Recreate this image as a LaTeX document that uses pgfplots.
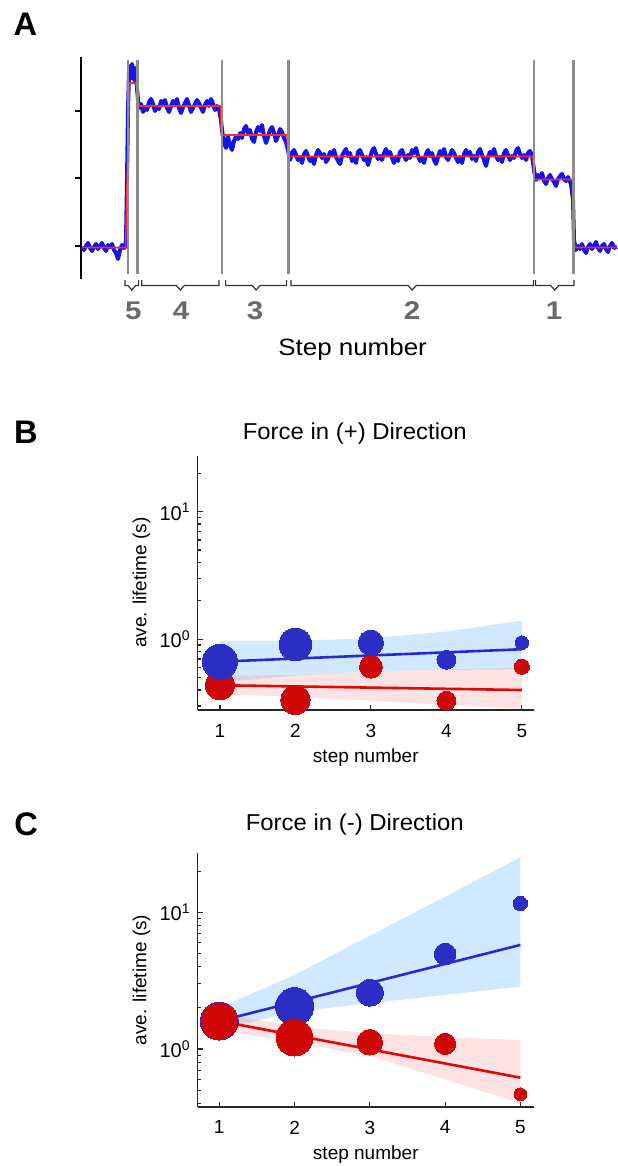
\documentclass[border=0pt]{standalone}
\usepackage{fontspec}
\setmainfont{Liberation Sans}
\usepackage{pgfplots}
\pgfplotsset{compat=1.18}

\definecolor{mblue}{RGB}{42,46,196}
\definecolor{mred}{RGB}{206,8,8}
\definecolor{lblue}{RGB}{40,40,215}
\definecolor{lred}{RGB}{222,10,10}
\definecolor{bandblue}{rgb}{0.55,0.78,1}
\definecolor{bandred}{rgb}{0.95,0.55,0.55}
\definecolor{trace}{RGB}{20,20,235}
\definecolor{fitred}{RGB}{255,40,40}
\definecolor{steplines}{RGB}{140,140,140}
\definecolor{steptxt}{RGB}{105,105,105}

% 1 px of the reference = 0.5 pt here
\pgfplotsset{
  lifetime/.style={
    scale only axis, width=168.15pt, anchor=center,
    axis x line=bottom, axis y line=left,
    axis line style={-, line width=0.8pt, black!85},
    tick align=inside,
    xtick={1,2,3,4,5},
    ytick={1,10},
    yticklabels={10\textsuperscript{0},10\textsuperscript{1}},
    minor ytick={0.3,0.4,0.5,0.6,0.7,0.8,0.9,2,3,4,5,6,7,8,9,20},
    major tick length=2.6pt, minor tick length=1.8pt,
    tick style={black!85, line width=0.6pt},
    xticklabel style={font=\fontsize{9.5}{9.5}\selectfont, yshift=-3.5pt,
      /pgf/number format/assume math mode=true},
    yticklabel style={font=\fontsize{10}{10}\selectfont},
    clip=false,
  },
  bub/.style 2 args={only marks, mark=*, mark size=#2pt, color=#1,
    mark options={line width=0pt}},
}
\tikzset{
  bracket/.style={black!80, line width=0.6pt},
  stepnum/.style={steptxt, font=\fontsize{12.8}{12.8}\selectfont\bfseries, xscale=1.15},
  panel/.style={font=\fontsize{16.3}{16.3}\selectfont\bfseries},
}

\begin{document}
\begin{tikzpicture}
\path[use as bounding box] (0,0) rectangle (308.5pt,-583pt);

% ---------------- A: trace ----------------
\begin{axis}[
  at={(174.5pt,-84pt)}, anchor=center,
  scale only axis, width=268pt, height=111pt,
  xmin=81, xmax=617, ymin=57, ymax=279, y dir=reverse,
  axis x line=none, axis y line=left,
  y axis line style={-, line width=1pt, black},
  ytick={110.7,178,245.7}, yticklabels={,,},
  tick align=outside, major tick length=3pt,
  tick style={black, line width=0.8pt},
  clip=false,
]
  % raw signal
  \addplot[trace, line width=2pt, line join=round] coordinates {
    (82,247) (84,250) (86,246) (88,243) (90,248) (92,251) (94,247) (96,244)
    (98,249) (100,246) (102,243) (104,248) (106,251) (108,245) (110,247) (112,244)
    (114,250) (116,253) (118,259) (120,250) (122,245) (124,248) (125,247)
    (126,240) (127,180) (128,110) (129,72) (130,66) (131,78) (132,64) (133,70)
    (134,80) (135,68) (136,76) (137,88) (138,100) (139,108)
    (141,104) (143,112) (145,107) (147,110) (149,102) (151,99) (153,104) (155,111)
    (157,107) (159,109) (161,101) (163,104) (165,100) (167,108) (169,112) (171,106)
    (173,101) (175,104) (177,99) (179,108) (181,113) (183,107) (185,103) (187,99)
    (189,105) (191,112) (193,108) (195,104) (197,100) (199,103) (201,108) (203,112)
    (205,105) (207,101) (209,106) (211,99) (213,104) (215,110) (217,106) (219,109)
    (221,120) (222,130)
    (224,142) (226,148) (228,137) (230,145) (232,150) (234,141) (236,136) (238,139)
    (240,133) (242,138) (244,129) (246,126) (248,133) (250,130) (252,139) (254,142)
    (256,132) (258,127) (260,131) (262,125) (264,136) (266,143) (268,137) (270,130)
    (272,127) (274,133) (276,141) (278,136) (280,129) (282,132) (284,138) (286,142)
    (288,150)
    (290,160) (292,153) (294,150) (296,155) (298,160) (300,157) (302,163) (304,154)
    (306,151) (308,156) (310,161) (312,158) (314,164) (316,155) (318,150) (320,153)
    (322,158) (324,154) (326,162) (328,159) (330,152) (332,155) (334,150) (336,157)
    (338,161) (340,164) (342,156) (344,152) (346,149) (348,156) (350,153) (352,161)
    (354,158) (356,163) (358,152) (360,150) (362,155) (364,160) (366,157) (368,165)
    (370,158) (372,151) (374,148) (376,154) (378,159) (380,156) (382,160) (384,153)
    (386,149) (388,155) (390,152) (392,158) (394,163) (396,157) (398,161) (400,152)
    (402,150) (404,156) (406,160) (408,155) (410,158) (412,150) (414,153) (416,148)
    (418,156) (420,161) (422,158) (424,163) (426,154) (428,150) (430,156) (432,153)
    (434,160) (436,164) (438,157) (440,151) (442,155) (444,149) (446,157) (448,160)
    (450,155) (452,150) (454,153) (456,158) (458,162) (460,157) (462,163) (464,154)
    (466,150) (468,155) (470,152) (472,159) (474,156) (476,161) (478,152) (480,149)
    (482,155) (484,160) (486,166) (488,157) (490,152) (492,155) (494,149) (496,156)
    (498,160) (500,157) (502,162) (504,153) (506,150) (508,155) (510,160) (512,156)
    (514,158) (516,151) (518,148) (520,154) (522,158) (524,155) (526,160) (528,153)
    (530,151) (532,155)
    (534,170) (536,180) (538,175) (540,178) (542,173) (544,181) (546,184) (548,178)
    (550,175) (552,179) (554,182) (556,186) (558,179) (560,176) (562,174) (564,179)
    (566,181) (568,177) (570,182) (571,184)
    (573,200) (574,240) (576,250)
    (578,246) (580,249) (582,244) (584,250) (586,253) (588,247) (590,244) (592,249)
    (594,246) (596,242) (598,248) (600,251) (602,246) (604,244) (606,249) (608,252)
    (610,246) (612,243) (614,248) (617,247)
  };
  % step fit
  \addplot[fitred, line width=0.8pt] coordinates {
    (82,247.5) (125.5,247.5) (129.5,83) (136,83) (139,106) (220.5,106)
    (221.5,135) (287,135) (288.5,156.5) (533,156.5) (534,179.5) (573,179.5)
    (574.5,247.5) (617,247.5)
  };
  % step boundaries
  \addplot[steplines, line width=1.4pt] coordinates {(128,60) (128,274)};
  \addplot[steplines, line width=1.4pt] coordinates {(137.5,60) (137.5,274)};
  \addplot[steplines, line width=1.4pt] coordinates {(222,60) (222,274)};
  \addplot[steplines, line width=1.4pt] coordinates {(288.5,60) (288.5,274)};
  \addplot[steplines, line width=1.4pt] coordinates {(534,60) (534,274)};
  \addplot[steplines, line width=1.4pt] coordinates {(573.5,60) (573.5,274)};
  % brackets
  \draw[bracket] (axis cs:125,280) -- (axis cs:125,285.5) -- (axis cs:128,285.5)
    -- (axis cs:131.8,290) -- (axis cs:135.6,285.5) -- (axis cs:138.6,285.5) -- (axis cs:138.6,280);
  \draw[bracket] (axis cs:141.7,280) -- (axis cs:141.7,285.5) -- (axis cs:176.3,285.5)
    -- (axis cs:180.3,290) -- (axis cs:184.3,285.5) -- (axis cs:219,285.5) -- (axis cs:219,280);
  \draw[bracket] (axis cs:225.6,280) -- (axis cs:225.6,285.5) -- (axis cs:252.1,285.5)
    -- (axis cs:256.1,290) -- (axis cs:260.1,285.5) -- (axis cs:286.6,285.5) -- (axis cs:286.6,280);
  \draw[bracket] (axis cs:291,280) -- (axis cs:291,285.5) -- (axis cs:408.2,285.5)
    -- (axis cs:412.2,290) -- (axis cs:416.2,285.5) -- (axis cs:533.5,285.5) -- (axis cs:533.5,280);
  \draw[bracket] (axis cs:535.4,280) -- (axis cs:535.4,285.5) -- (axis cs:550.7,285.5)
    -- (axis cs:554.7,290) -- (axis cs:558.7,285.5) -- (axis cs:574,285.5) -- (axis cs:574,280);
  \node[stepnum] at (axis cs:133.3,310.7) {5};
  \node[stepnum] at (axis cs:181,310.7) {4};
  \node[stepnum] at (axis cs:255,310.7) {3};
  \node[stepnum] at (axis cs:412,310.7) {2};
  \node[stepnum] at (axis cs:554,310.7) {1};
\end{axis}
\node[panel] at (12.7pt,-11.9pt) {A};
\node[font=\fontsize{11.8}{11.8}\selectfont, xscale=1.1, anchor=base] at (176.3pt,-177.5pt) {Step number};

% ---------------- B ----------------
\begin{semilogyaxis}[lifetime,
  at={(182.9pt,-291.4pt)}, height=127.15pt,
  xmin=0.705, xmax=5.16, ymin=0.279, ymax=27.5,
]
  \addplot[draw=none, fill=bandblue, fill opacity=0.4] coordinates {
    (1,0.97) (2,0.97) (3,1.02) (4,1.15) (5,1.40)
    (5,0.58) (4,0.575) (3,0.56) (2,0.52) (1,0.46)} --cycle;
  \addplot[draw=none, fill=bandred, fill opacity=0.25] coordinates {
    (1,0.515) (2,0.525) (3,0.557) (4,0.58) (5,0.60)
    (5,0.285) (4,0.305) (3,0.33) (2,0.355) (1,0.37)} --cycle;
  \addplot[lblue, line width=1.3pt] coordinates {(1,0.667) (5,0.835)};
  \addplot[lred, line width=1.3pt] coordinates {(1,0.436) (5,0.40)};
  % red bubbles
  \addplot[bub={mred}{7.3}] coordinates {(1,0.436)};
  \addplot[bub={mred}{7.3}] coordinates {(2,0.334)};
  \addplot[bub={mred}{5.7}] coordinates {(3,0.61)};
  \addplot[bub={mred}{4.7}] coordinates {(4,0.33)};
  \addplot[bub={mred}{3.8}] coordinates {(5,0.61)};
  % blue bubbles
  \addplot[bub={mblue}{8.8}] coordinates {(1,0.667)};
  \addplot[bub={mblue}{8.2}] coordinates {(2,0.91)};
  \addplot[bub={mblue}{6.3}] coordinates {(3,0.94)};
  \addplot[bub={mblue}{4.7}] coordinates {(4,0.69)};
  \addplot[bub={mblue}{3.4}] coordinates {(5,0.94)};
\end{semilogyaxis}
\node[panel] at (13pt,-216pt) {B};
\node[font=\fontsize{11.5}{11.5}\selectfont, xscale=1.04, anchor=base] at (177.4pt,-219.5pt) {Force in (+) Direction};
\node[font=\fontsize{9.5}{9.5}\selectfont] at (182.9pt,-379pt) {step number};
\node[font=\fontsize{9.5}{9.5}\selectfont, rotate=90] at (70.75pt,-291.25pt) {ave. lifetime (s)};

% ---------------- C ----------------
\begin{semilogyaxis}[lifetime,
  at={(182.9pt,-490pt)}, height=126.7pt,
  xmin=0.713, xmax=5.18, ymin=0.378, ymax=27,
]
  \addplot[draw=none, fill=bandblue, fill opacity=0.4] coordinates {
    (1,2.0) (2,3.48) (3,6.74) (4,13.0) (5,25.3)
    (5,2.86) (4,2.48) (3,2.16) (2,1.87) (1,1.38)} --cycle;
  \addplot[draw=none, fill=bandred, fill opacity=0.25] coordinates {
    (1,1.83) (2,1.46) (3,1.30) (4,1.22) (5,1.16)
    (5,0.40) (4,0.60) (3,0.89) (2,1.12) (1,1.38)} --cycle;
  \addplot[lblue, line width=1.3pt] coordinates {(1,1.6) (5,5.77)};
  \addplot[lred, line width=1.3pt] coordinates {(1,1.6) (5,0.617)};
  % blue bubbles
  \addplot[bub={mblue}{9.5}] coordinates {(1,1.60)};
  \addplot[bub={mblue}{9.5}] coordinates {(2,2.04)};
  \addplot[bub={mblue}{6.7}] coordinates {(3,2.58)};
  \addplot[bub={mblue}{5.4}] coordinates {(4,4.95)};
  \addplot[bub={mblue}{3.6}] coordinates {(5,11.6)};
  % red bubbles
  \addplot[bub={mred}{9.1}] coordinates {(1,1.60)};
  \addplot[bub={mred}{9.2}] coordinates {(2,1.21)};
  \addplot[bub={mred}{6.4}] coordinates {(3,1.12)};
  \addplot[bub={mred}{5.3}] coordinates {(4,1.09)};
  \addplot[bub={mred}{3.2}] coordinates {(5,0.466)};
\end{semilogyaxis}
\node[panel] at (13.1pt,-411.9pt) {C};
\node[font=\fontsize{11.5}{11.5}\selectfont, xscale=1.04, anchor=base] at (177.4pt,-415.3pt) {Force in (-) Direction};
\node[font=\fontsize{9.5}{9.5}\selectfont] at (182.9pt,-577.5pt) {step number};
\node[font=\fontsize{9.5}{9.5}\selectfont, rotate=90] at (70.75pt,-490pt) {ave. lifetime (s)};
\end{tikzpicture}
\end{document}
